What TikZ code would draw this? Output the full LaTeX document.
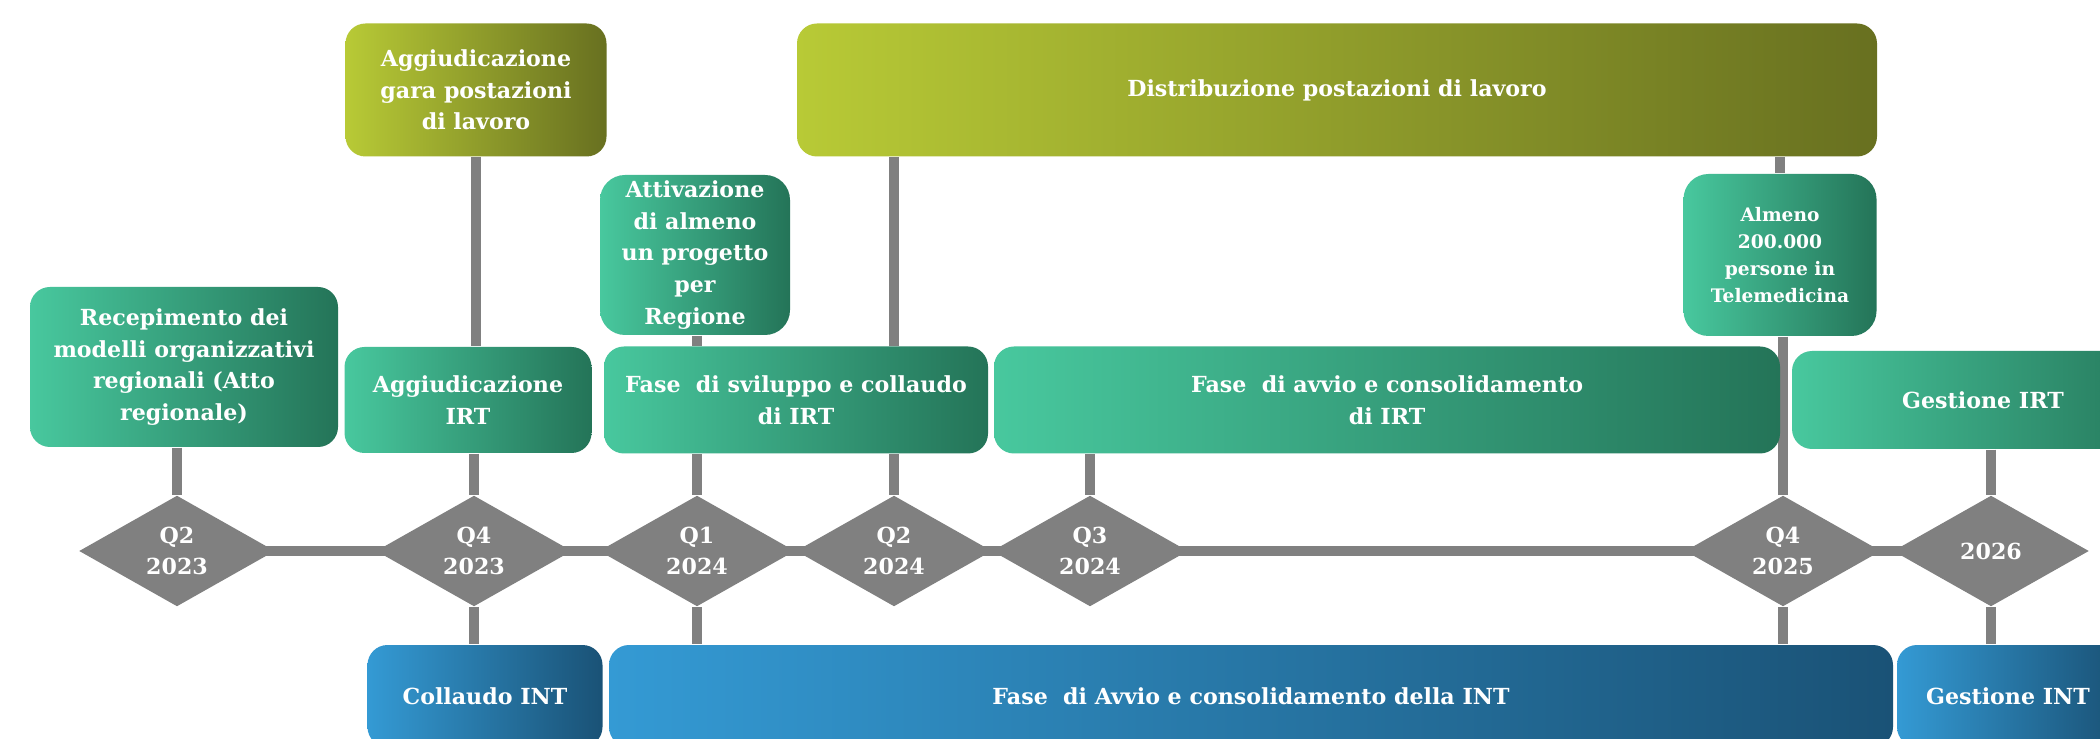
\documentclass[tikz,border=0pt]{standalone}
\usepackage{fontspec}
\setmainfont{DejaVu Serif}
\usetikzlibrary{shapes.geometric}
\pgfdeclarelayer{bg}
\pgfsetlayers{bg,main}
\definecolor{tealL}{RGB}{72,200,158}
\definecolor{tealR}{RGB}{36,116,88}
\definecolor{oliveL}{RGB}{184,202,54}
\definecolor{oliveR}{RGB}{104,112,32}
\definecolor{blueL}{RGB}{52,154,212}
\definecolor{blueR}{RGB}{26,82,118}
\definecolor{greyC}{RGB}{128,128,128}
\begin{document}
\begin{tikzpicture}[x=0.1mm,y=-0.1mm,
  box/.style={rectangle, rounded corners=2mm, inner sep=0pt, text=white, align=center,
    font=\bfseries\fontsize{6.3}{9}\selectfont},
  tealbox/.style={box, left color=tealL, right color=tealR},
  olivebox/.style={box, left color=oliveL, right color=oliveR},
  bluebox/.style={box, left color=blueL, right color=blueR},
  smallfont/.style={font=\bfseries\fontsize{5.3}{7.6}\selectfont},
  quarter/.style={diamond, aspect=1.8, fill=greyC, inner sep=0pt, text=white, align=center,
    minimum width=19.6mm, minimum height=11.1mm, font=\bfseries\fontsize{6.3}{8.6}\selectfont},
  conn/.style={draw=greyC, line width=1mm}
]
\useasboundingbox (0,0) rectangle (2100,739);
\begin{pgfonlayer}{bg}
  \fill[white] (0,0) rectangle (2100,739);
\end{pgfonlayer}
\clip (0,0) rectangle (2100,739);

% top row boxes
\node[olivebox, minimum width=26.1mm, minimum height=13.3mm] (gara) at (476,90)
  {Aggiudicazione\\gara postazioni\\di lavoro};
\node[olivebox, minimum width=108mm, minimum height=13.3mm] (dist) at (1337,90)
  {Distribuzione postazioni di lavoro};
\node[tealbox, rounded corners=2.5mm, minimum width=19mm, minimum height=16mm] (att) at (695,255)
  {Attivazione\\di almeno\\un progetto\\per\\Regione};
\node[tealbox, smallfont, rounded corners=2.5mm, minimum width=19.3mm, minimum height=16.2mm] (alm) at (1780,255)
  {Almeno\\200.000\\persone in\\Telemedicina};
\node[tealbox, minimum width=30.8mm, minimum height=16mm] (rec) at (184,367)
  {Recepimento dei\\modelli organizzativi\\regionali (Atto\\regionale)};

% IRT row
\node[tealbox, minimum width=24.7mm, minimum height=10.6mm] (irt) at (468,400)
  {Aggiudicazione\\IRT};
\node[tealbox, minimum width=38.4mm, minimum height=10.7mm] (svil) at (796,400)
  {Fase~ di sviluppo e collaudo\\di IRT};
\node[tealbox, minimum width=78.6mm, minimum height=10.7mm] (avv) at (1387,400)
  {Fase~ di avvio e consolidamento\\di IRT};
\node[tealbox, minimum width=38.2mm, minimum height=9.8mm] (gest) at (1983,400)
  {Gestione IRT};

% timeline diamonds
\node[quarter] (d1) at (177,551) {Q2\\2023};
\node[quarter] (d2) at (474,551) {Q4\\2023};
\node[quarter] (d3) at (697,551) {Q1\\2024};
\node[quarter] (d4) at (894,551) {Q2\\2024};
\node[quarter] (d5) at (1090,551) {Q3\\2024};
\node[quarter] (d6) at (1783,551) {Q4\\2025};
\node[quarter] (d7) at (1991,551) {2026};

% INT row
\node[bluebox, minimum width=23.5mm, minimum height=10.2mm] (col) at (485,696)
  {Collaudo INT};
\node[bluebox, minimum width=128.4mm, minimum height=10.2mm] (int) at (1251,696)
  {Fase~ di Avvio e consolidamento della INT};
\node[bluebox, minimum width=22.2mm, minimum height=10.2mm] (gint) at (2008,696)
  {Gestione INT};

\begin{pgfonlayer}{bg}
  \draw[conn] (d1.center) -- (d7.center);
  \draw[conn] (d1.north |- rec.south) -- (d1.north);
  \draw[conn] (gara.south) -- (gara.south |- irt.north);
  \draw[conn] (d2.north |- irt.south) -- (d2.north);
  \draw[conn] (d3.north |- att.south) -- (d3.north |- svil.north);
  \draw[conn] (d3.north |- svil.south) -- (d3.north);
  \draw[conn] (d4.north |- dist.south) -- (d4.north |- svil.north);
  \draw[conn] (d4.north |- svil.south) -- (d4.north);
  \draw[conn] (d5.north |- avv.south) -- (d5.north);
  \draw[conn] (alm.north |- dist.south) -- (alm.north);
  \draw[conn] (d6.north |- alm.south) -- (d6.north);
  \draw[conn] (d7.north |- gest.south) -- (d7.north);
  \draw[conn] (d2.south) -- (d2.south |- col.north);
  \draw[conn] (d3.south) -- (d3.south |- int.north);
  \draw[conn] (d6.south) -- (d6.south |- int.north);
  \draw[conn] (d7.south) -- (d7.south |- gint.north);
\end{pgfonlayer}
\end{tikzpicture}
\end{document}
